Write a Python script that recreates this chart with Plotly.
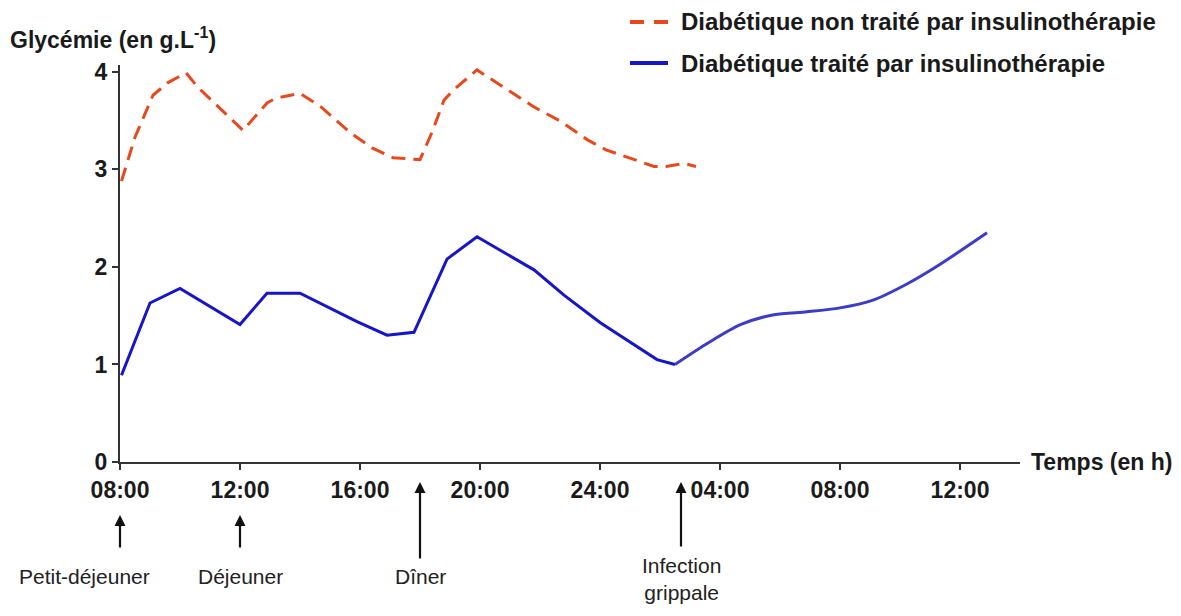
import plotly.graph_objects as go

# ---- data ----
red_hours = [8.05, 8.5, 9.1, 9.6, 10.2, 10.6, 12.1, 12.9, 13.2, 14.0, 14.7, 15.7, 16.4, 17.1,
             18.0, 18.4, 18.8, 19.1, 19.9, 20.4, 21.8, 22.7, 23.6, 24.2, 25.1, 25.8, 26.2, 26.8, 27.2]
red_values = [2.88, 3.33, 3.76, 3.89, 3.99, 3.84, 3.40, 3.68, 3.73, 3.78, 3.64, 3.37, 3.22, 3.12,
              3.10, 3.38, 3.71, 3.81, 4.02, 3.92, 3.64, 3.49, 3.30, 3.20, 3.10, 3.03, 3.03, 3.06, 3.03]

blue_hours = [8.05, 9.0, 10.0, 12.0, 12.9, 14.0, 15.9, 16.9, 17.8, 18.9, 19.9, 21.8, 22.8, 24.0, 25.9, 26.5]
blue_values = [0.89, 1.63, 1.78, 1.41, 1.73, 1.73, 1.44, 1.30, 1.33, 2.08, 2.31, 1.97, 1.71, 1.43, 1.05, 1.00]

blue2_hours = [26.5, 27.6, 28.7, 29.8, 30.9, 32.0, 33.1, 34.2, 35.3, 36.9]
blue2_values = [1.00, 1.22, 1.41, 1.51, 1.54, 1.58, 1.66, 1.82, 2.02, 2.35]

tick_hours = [8, 12, 16, 20, 24, 28, 32, 36]
tick_labels = ["08:00", "12:00", "16:00", "20:00", "24:00", "04:00", "08:00", "12:00"]
y_ticks = [0, 1, 2, 3, 4]

event_hours = [8, 12, 18, 26.7]
event_labels = ["Petit-déjeuner", "Déjeuner", "Dîner", "Infection<br>grippale"]
event_long = [False, False, True, True]
event_shift = [-36, 0, 0, 0]

series_names = ["Diabétique non traité par insulinothérapie", "Diabétique traité par insulinothérapie"]

RED = "#e8481e"
BLUE = "#1616c8"
BLUE2 = "#3c3cc6"
FONT = "Liberation Sans, Arial, sans-serif"
bold = dict(family=FONT, size=23, color="#1a1a1a", weight="bold")
bold_leg = dict(family=FONT, size=24, color="#1a1a1a", weight="bold")

# page-pixel helpers (plot area: x 120..1020, y 65..462 on the page)
def px_x(p):
    return (p - 120) / 900

def px_y(p):
    return (462 - p) / 397

fig = go.Figure()
fig.add_trace(go.Scatter(x=red_hours, y=red_values, mode="lines", name=series_names[0],
                         line=dict(color=RED, width=3, dash="14px,8px"), showlegend=False))
fig.add_trace(go.Scatter(x=blue_hours, y=blue_values, mode="lines", name=series_names[1],
                         line=dict(color=BLUE, width=3), showlegend=False))
fig.add_trace(go.Scatter(x=blue2_hours, y=blue2_values, mode="lines", name=series_names[1],
                         showlegend=False,
                         line=dict(color=BLUE2, width=3, shape="spline", smoothing=0.8)))

annotations = []
shapes = []
for h, lab, long, sh in zip(event_hours, event_labels, event_long, event_shift):
    multi = "<br>" in lab
    head_px = 482 if long else 515
    tail_px = 548 if multi else (560 if long else 549)
    annotations.append(dict(x=h, xref="x", y=px_y(head_px), yref="paper",
                            ax=0, ay=tail_px - head_px, axref="pixel", ayref="pixel",
                            text="", showarrow=True, arrowhead=2, arrowsize=1.0,
                            arrowwidth=2.2, arrowcolor="#111"))
    annotations.append(dict(x=h, xref="x", y=px_y(606 if multi else 563), yref="paper",
                            xshift=sh, text=lab, showarrow=False, xanchor="center",
                            yanchor="bottom" if multi else "top",
                            font=dict(family=FONT, size=21, color="#222")))

annotations.append(dict(x=px_x(1029), xref="paper", y=0, yref="paper", text="Temps (en h)",
                        showarrow=False, xanchor="left", yanchor="middle", font=bold))
annotations.append(dict(x=px_x(8), xref="paper", y=px_y(38), yref="paper",
                        text="Glycémie (en g.L<sup>-1</sup>)", showarrow=False,
                        xanchor="left", yanchor="middle", font=bold))

# legend drawn by hand
legend_rows = [(22, RED, "14px,10px"), (63, BLUE, "solid")]
for (py, col, dash), name in zip(legend_rows, series_names):
    shapes.append(dict(type="line", xref="paper", yref="paper",
                       x0=px_x(630), x1=px_x(668), y0=px_y(py), y1=px_y(py),
                       line=dict(color=col, width=4, dash=dash)))
    annotations.append(dict(x=px_x(679), xref="paper", y=px_y(py), yref="paper",
                            text=name, showarrow=False, xanchor="left", yanchor="middle",
                            font=bold_leg))

# page has an 8px body margin: compensate so the plot area lands at page x 120..1020, y 65..462
fig.update_layout(
    width=1165, height=600,
    margin=dict(l=112, r=153, t=57, b=146),
    paper_bgcolor="white", plot_bgcolor="white",
    annotations=annotations, shapes=shapes,
    showlegend=False,
    xaxis=dict(range=[8, 38], tickvals=tick_hours, ticktext=tick_labels, showgrid=False,
               zeroline=False, showline=True, linecolor="#333", linewidth=2,
               ticks="outside", ticklen=6, tickcolor="#333", tickwidth=1.5,
               tickfont=bold),
    yaxis=dict(range=[0, 4.07], tickvals=y_ticks, showgrid=False, zeroline=False,
               showline=True, linecolor="#333", linewidth=2,
               ticks="outside", ticklen=6, tickcolor="#333", tickwidth=1.5,
               tickfont=bold),
)

fig.write_html("out.html")
